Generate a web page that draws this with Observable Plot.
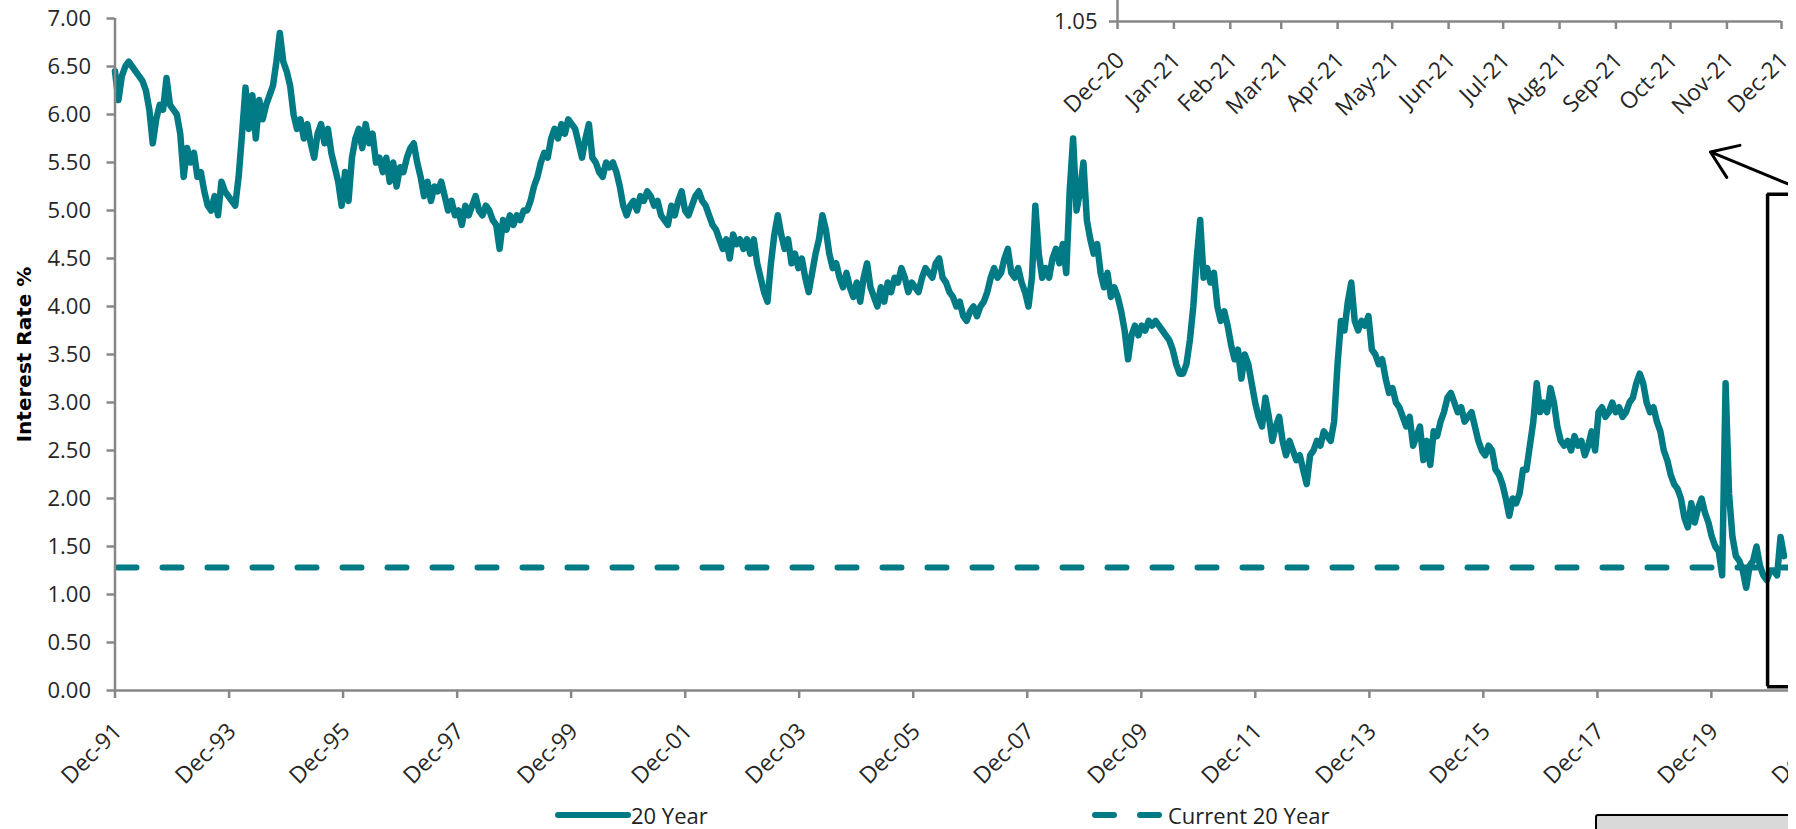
<!DOCTYPE html>
<html>
<head>
<meta charset="utf-8">
<script src="https://cdn.jsdelivr.net/npm/d3@7"></script>
<script src="https://cdn.jsdelivr.net/npm/@observablehq/plot@0.6"></script>
<style>
  html, body { margin: 0; padding: 0; background: #fff; }
  #wrap { position: relative; width: 1788px; height: 829px; overflow: hidden; background: #fff; font-family: "Open Sans", sans-serif; }
  #wrap svg { position: absolute; left: 0; top: 0; overflow: visible; max-width: none !important; }
  .legend { position: absolute; top: 800px; height: 30px; display: flex; align-items: center; font: 22px "Open Sans", sans-serif; color: #222; }
  .legend svg { position: static !important; }
  .box { position: absolute; left: 1595px; top: 814px; width: 400px; height: 60px; background: #d9d9d9; border: 2.5px solid #000; border-radius: 3px; }
</style>
</head>
<body>
<div id="wrap"></div>
<script>
// ---- data ----
const seriesName = "20 Year";
const currentName = "Current 20 Year";
const currentRate = 1.28;
const startDate = "1991-12-01";
const stepDays = 22; // sampling interval of the series
const rates = [
  6.45,6.15,6.4,6.5,6.55,6.5,6.45,6.4,6.35,6.25,
  6.05,5.7,5.95,6.1,6.05,6.38,6.1,6.05,6.0,5.8,
  5.35,5.65,5.5,5.6,5.35,5.4,5.2,5.05,5.0,5.15,
  4.95,5.3,5.2,5.15,5.1,5.05,5.35,5.8,6.28,5.85,
  6.2,5.75,6.15,5.95,6.1,6.2,6.3,6.55,6.85,6.55,
  6.45,6.3,6.0,5.85,5.95,5.75,5.9,5.7,5.55,5.8,
  5.9,5.7,5.85,5.6,5.45,5.3,5.05,5.4,5.1,5.55,
  5.75,5.85,5.65,5.9,5.7,5.8,5.5,5.55,5.4,5.55,
  5.3,5.5,5.25,5.45,5.4,5.55,5.65,5.7,5.5,5.35,
  5.15,5.3,5.1,5.25,5.2,5.3,5.15,5.0,5.1,4.95,
  5.0,4.85,5.05,4.95,5.05,5.15,5.0,4.95,5.05,5.0,
  4.9,4.85,4.6,4.9,4.8,4.95,4.85,4.95,4.9,5.0,
  5.0,5.1,5.25,5.35,5.5,5.6,5.55,5.75,5.85,5.75,
  5.9,5.8,5.95,5.9,5.85,5.7,5.55,5.75,5.9,5.55,
  5.5,5.4,5.35,5.5,5.45,5.5,5.4,5.25,5.05,4.95,
  5.05,5.1,5.0,5.15,5.1,5.2,5.15,5.05,5.1,4.95,
  4.9,4.85,5.05,4.95,5.1,5.2,5.0,4.95,5.05,5.15,
  5.2,5.1,5.05,4.95,4.85,4.8,4.7,4.6,4.7,4.5,
  4.75,4.65,4.7,4.6,4.7,4.55,4.7,4.45,4.3,4.15,
  4.05,4.45,4.75,4.95,4.75,4.6,4.7,4.45,4.55,4.4,
  4.5,4.3,4.15,4.35,4.55,4.7,4.95,4.8,4.55,4.4,
  4.45,4.3,4.2,4.35,4.2,4.1,4.25,4.05,4.3,4.45,
  4.2,4.1,4.0,4.2,4.05,4.25,4.15,4.3,4.25,4.4,
  4.3,4.15,4.25,4.2,4.15,4.3,4.4,4.35,4.3,4.45,
  4.5,4.3,4.25,4.15,4.1,4.0,4.05,3.9,3.85,3.95,
  4.0,3.9,4.0,4.05,4.15,4.3,4.4,4.3,4.35,4.5,
  4.6,4.35,4.3,4.4,4.25,4.15,4.0,4.3,5.05,4.55,
  4.3,4.4,4.3,4.5,4.6,4.45,4.65,4.35,5.2,5.75,
  5.0,5.2,5.5,4.9,4.7,4.55,4.65,4.35,4.2,4.35,
  4.1,4.2,4.1,3.95,3.75,3.45,3.7,3.8,3.7,3.8,
  3.75,3.85,3.8,3.85,3.8,3.75,3.7,3.65,3.55,3.4,
  3.3,3.3,3.4,3.65,4.0,4.5,4.9,4.3,4.4,4.25,
  4.35,4.0,3.85,3.95,3.8,3.6,3.45,3.55,3.25,3.5,
  3.4,3.2,3.0,2.85,2.75,3.05,2.85,2.6,2.75,2.85,
  2.6,2.45,2.6,2.5,2.4,2.45,2.3,2.15,2.45,2.5,
  2.6,2.55,2.7,2.65,2.6,2.8,3.4,3.85,3.75,4.05,
  4.25,3.85,3.75,3.85,3.8,3.9,3.55,3.5,3.4,3.45,
  3.25,3.1,3.15,3.0,2.95,2.85,2.75,2.85,2.55,2.65,
  2.75,2.4,2.6,2.35,2.7,2.65,2.8,2.9,3.05,3.1,
  3.0,2.9,2.95,2.8,2.85,2.9,2.75,2.6,2.5,2.45,
  2.55,2.5,2.3,2.25,2.15,2.0,1.82,2.0,1.95,2.05,
  2.3,2.3,2.55,2.8,3.2,2.9,3.0,2.9,3.15,3.0,
  2.75,2.6,2.55,2.6,2.5,2.65,2.55,2.6,2.45,2.55,
  2.7,2.5,2.9,2.95,2.85,2.9,3.0,2.9,2.95,2.85,
  2.9,3.0,3.05,3.2,3.3,3.2,3.0,2.9,2.95,2.8,
  2.7,2.5,2.4,2.25,2.15,2.1,2.0,1.8,1.7,1.95,
  1.75,1.9,2.0,1.85,1.75,1.6,1.5,1.45,1.2,3.2,
  2.05,1.6,1.4,1.35,1.25,1.07,1.3,1.35,1.5,1.3,
  1.2,1.15,1.25,1.25,1.2,1.6,1.4
];
const yTicks = [0,0.5,1,1.5,2,2.5,3,3.5,4,4.5,5,5.5,6,6.5,7];
const xTickDates = ["1991-12-01","1993-12-01","1995-12-01","1997-12-01","1999-12-01","2001-12-01","2003-12-01","2005-12-01","2007-12-01","2009-12-01","2011-12-01","2013-12-01","2015-12-01","2017-12-01","2019-12-01","2021-12-01"];
const insetTickDates = ["2020-12-01","2021-01-01","2021-02-01","2021-03-01","2021-04-01","2021-05-01","2021-06-01","2021-07-01","2021-08-01","2021-09-01","2021-10-01","2021-11-01","2021-12-01"];
const insetYTicks = [1.05];
// annotation: bracket around the last year and arrow pointing to the inset
const bracket = {x: "2020-11-25", x2: "2021-12-01", y1: 0.04, y2: 5.17};
const arrowAnn = {x1: "2021-05-15", y1: 5.25, x2: "2019-11-25", y2: 5.61};

// ---- build ----
const parse = d3.utcParse("%Y-%m-%d");
const t0 = parse(startDate);
const series = rates.map((r, i) => ({date: d3.utcDay.offset(t0, i * stepDays), rate: r}));
const teal = "#007b86";
const axisGrey = "#878787";
const txt = "#262626";
const fmtMonth = d3.utcFormat("%b-%y");

const main = Plot.plot({
  width: 1850, height: 829,
  marginLeft: 114.5, marginRight: 25, marginTop: 18, marginBottom: 139,
  style: {fontFamily: "Open Sans, sans-serif", fontSize: "22px", color: txt, background: "transparent", overflow: "visible", maxWidth: "none"},
  x: {type: "utc", domain: [parse("1991-12-01"), parse("2021-12-01")]},
  y: {domain: [0, 7]},
  marks: [
    Plot.ruleY([currentRate], {stroke: teal, strokeWidth: 6, strokeDasharray: "19,26", strokeLinecap: "round", strokeDashoffset: -3}),
    Plot.line(series, {x: "date", y: "rate", stroke: teal, strokeWidth: 6.5, strokeLinejoin: "round", strokeLinecap: "round"}),
    Plot.ruleX([parse("1991-12-01")], {stroke: axisGrey, strokeWidth: 2.5}),
    Plot.ruleY([0], {stroke: axisGrey, strokeWidth: 2.5}),
    Plot.axisY({ticks: yTicks, tickFormat: d3.format(".2f"), tickSize: 8, tickPadding: 16, stroke: axisGrey, strokeWidth: 2.5, fill: txt, fontSize: 22, label: null}),
    Plot.axisX({ticks: xTickDates.map(parse), tickFormat: () => "", tickSize: 8, stroke: axisGrey, strokeWidth: 2.5, label: null}),
    Plot.axisX({ticks: xTickDates.map(parse), tickFormat: fmtMonth, tickSize: 0, tickPadding: 37, tickRotate: -45, dx: 3, fill: txt, fontSize: 23, label: null}),
    Plot.ruleX([bracket], {x: d => parse(d.x), y1: "y1", y2: "y2", stroke: "#000", strokeWidth: 3.5}),
    Plot.ruleY([bracket], {y: "y1", x1: d => parse(d.x), x2: d => parse(d.x2), stroke: "#000", strokeWidth: 3.5}),
    Plot.ruleY([bracket], {y: "y2", x1: d => parse(d.x), x2: d => parse(d.x2), stroke: "#000", strokeWidth: 3.5}),
    Plot.arrow([arrowAnn], {x1: d => parse(d.x1), y1: "y1", x2: d => parse(d.x2), y2: "y2", stroke: "#000", strokeWidth: 3, headLength: 18, headAngle: 70}),
    Plot.text(["Interest Rate %"], {frameAnchor: "left", textAnchor: "middle", dx: -90, rotate: -90, fontFamily: "DejaVu Sans, sans-serif", fontWeight: "bold", fontSize: 20, fill: "#000"})
  ]
});

const inset = Plot.plot({
  width: 1850, height: 160,
  marginLeft: 1117, marginRight: 69, marginTop: -40, marginBottom: 139,
  style: {fontFamily: "Open Sans, sans-serif", fontSize: "22px", color: txt, background: "transparent", overflow: "visible", maxWidth: "none"},
  x: {type: "utc", domain: [parse(insetTickDates[0]), parse(insetTickDates[insetTickDates.length - 1])]},
  y: {domain: [1.05, 1.7]},
  marks: [
    Plot.ruleX([parse(insetTickDates[0])], {stroke: axisGrey, strokeWidth: 2.5}),
    Plot.ruleY([1.05], {stroke: axisGrey, strokeWidth: 2.5}),
    Plot.axisY({ticks: insetYTicks, tickFormat: d3.format(".2f"), tickSize: 8, tickPadding: 12, stroke: axisGrey, strokeWidth: 2.5, fill: txt, fontSize: 22, label: null}),
    Plot.axisX({ticks: insetTickDates.map(parse), tickFormat: () => "", tickSize: 8, stroke: axisGrey, strokeWidth: 2.5, label: null}),
    Plot.axisX({ticks: insetTickDates.map(parse), tickFormat: fmtMonth, tickSize: 0, tickPadding: 35, tickRotate: -45, dx: 3, fill: txt, fontSize: 23, label: null})
  ]
});

const wrap = document.getElementById("wrap");
wrap.appendChild(main);
wrap.appendChild(inset);

function legendItem(left, dashed, label) {
  const div = document.createElement("div");
  div.className = "legend";
  div.style.left = left + "px";
  const sw = d3.create("svg").attr("width", 76).attr("height", 30);
  sw.append("line").attr("x1", 3).attr("x2", 73).attr("y1", 15).attr("y2", 15)
    .attr("stroke", teal).attr("stroke-width", 6).attr("stroke-linecap", "round")
    .attr("stroke-dasharray", dashed ? "19,26" : null);
  div.appendChild(sw.node());
  const span = document.createElement("span");
  span.textContent = label;
  div.appendChild(span);
  wrap.appendChild(div);
}
legendItem(555, false, seriesName);
legendItem(1092, true, currentName);

const box = document.createElement("div");
box.className = "box";
wrap.appendChild(box);
</script>
</body>
</html>
